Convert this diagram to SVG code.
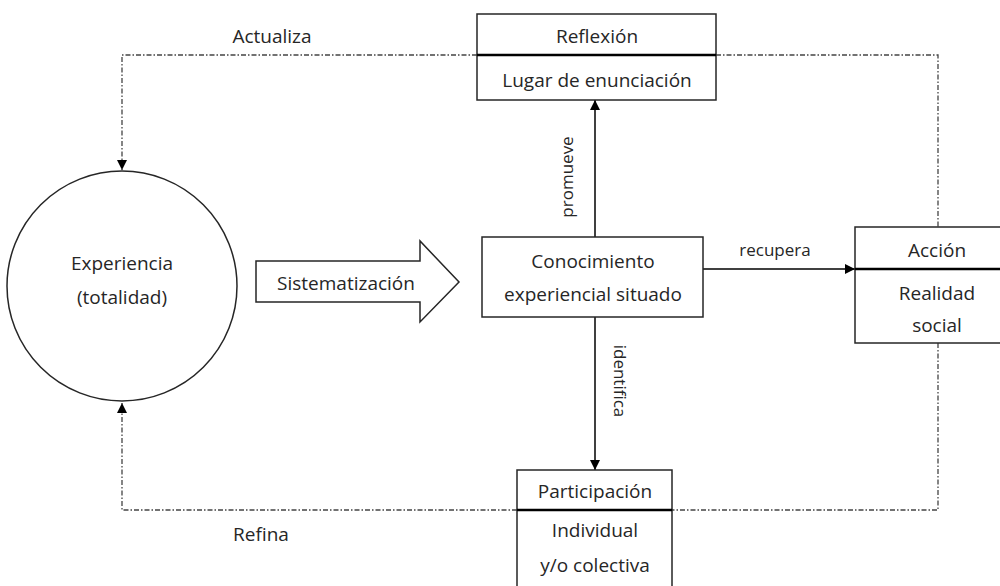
<svg xmlns="http://www.w3.org/2000/svg" width="1000" height="586" viewBox="0 0 1000 586">
<style>
text{font-family:"Open Sans","Liberation Sans",sans-serif;font-size:19px;fill:#262626;text-anchor:middle}
.box{fill:#fff;stroke:#262626;stroke-width:1.5}
.div{stroke:#000;stroke-width:2.5}
.solid{stroke:#000;stroke-width:1.5;fill:none}
.dash{stroke:#444;stroke-width:1.3;fill:none;stroke-dasharray:5 2 1.5 2}
.lbl{font-size:17px}
</style>
<defs>
<marker id="ah" viewBox="0 0 10 10" refX="10" refY="5" markerWidth="10" markerHeight="10" markerUnits="userSpaceOnUse" orient="auto">
<path d="M0,0 L10,5 L0,10 z" fill="#000"/>
</marker>
</defs>
<g id="connectors">
<path class="dash" d="M477,55 H122 V170" marker-end="url(#ah)"/>
<path class="dash" d="M716,55 H938 V227"/>
<path class="dash" d="M938,343 V510 H672"/>
<path class="dash" d="M517,510 H122 V403" marker-end="url(#ah)"/>
<path class="solid" d="M595,237 V100" marker-end="url(#ah)"/>
<path class="solid" d="M595,317 V470" marker-end="url(#ah)"/>
<path class="solid" d="M703,269 H855" marker-end="url(#ah)"/>
<text x="272" y="43">Actualiza</text>
<text x="261" y="541">Refina</text>
<text class="lbl" transform="translate(573,177) rotate(-90)">promueve</text>
<text class="lbl" transform="translate(614,381) rotate(90)">identifica</text>
<text class="lbl" x="775" y="256">recupera</text>
</g>
<g id="experiencia">
<circle cx="122" cy="286" r="115" class="box"/>
<text x="122" y="270">Experiencia</text>
<text x="122" y="304">(totalidad)</text>
</g>
<g id="sistematizacion">
<path class="box" d="M256,261 H420 V241 L459,282 L420,322 V302 H256 Z"/>
<text x="346" y="290">Sistematización</text>
</g>
<g id="conocimiento">
<rect class="box" x="482" y="237" width="221" height="80"/>
<text x="593" y="268">Conocimiento</text>
<text x="593" y="301">experiencial situado</text>
</g>
<g id="reflexion">
<rect class="box" x="477" y="14" width="239" height="86"/>
<line class="div" x1="477" y1="55" x2="716" y2="55"/>
<text x="597" y="43">Reflexión</text>
<text x="597" y="87">Lugar de enunciación</text>
</g>
<g id="accion">
<rect class="box" x="855" y="227" width="160" height="116"/>
<line class="div" x1="855" y1="269" x2="1000" y2="269"/>
<text x="937" y="257">Acción</text>
<text x="937" y="300">Realidad</text>
<text x="937" y="332">social</text>
</g>
<g id="participacion">
<rect class="box" x="517" y="470" width="155" height="130"/>
<line class="div" x1="517" y1="510" x2="672" y2="510"/>
<text x="595" y="498">Participación</text>
<text x="595" y="537">Individual</text>
<text x="595" y="572">y/o colectiva</text>
</g>
</svg>
